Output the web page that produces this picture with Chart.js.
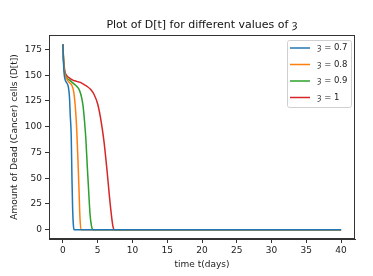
<!DOCTYPE html>
<html>
<head>
<meta charset="utf-8">
<title>Plot of D[t]</title>
<script src="https://cdn.jsdelivr.net/npm/chart.js@4"></script>
<style>
  body { margin: 0; background: #fff; }
</style>
</head>
<body>
<canvas id="myChart" width="373" height="276"></canvas>
<script>
// values
const sym = 'ȝ';
const chartTitle = 'Plot of D[t] for different values of ' + sym;
const labels = [sym + ' = 0.7', sym + ' = 0.8', sym + ' = 0.9', sym + ' = 1'];
const colors = ['#1f77b4', '#ff7f0e', '#2ca02c', '#d62728'];

const tBlue = [0, 0.1, 0.2, 0.35, 0.6, 0.8, 0.95, 1.05, 1.2, 1.3, 1.4, 1.5, 1.6, 40];
const dBlue = [180, 160, 150, 145, 142, 138, 128, 112, 90, 50, 20, 5, 0, 0];

const tOrange = [0, 0.1, 0.25, 0.5, 0.9, 1.3, 1.55, 1.75, 1.9, 2.0, 2.15, 2.3, 2.45, 2.6, 40];
const dOrange = [180, 162, 152, 147, 143, 140, 134, 122, 108, 95, 70, 42, 12, 0, 0];

const tGreen = [0, 0.1, 0.25, 0.5, 1.0, 1.5, 2.0, 2.4, 2.7, 2.9, 3.1, 3.3, 3.5, 3.7, 3.9, 4.1, 4.35, 40];
const dGreen = [180, 163, 153, 148, 145, 142, 139, 135, 128, 120, 106, 88, 62, 38, 15, 4, 0, 0];

const tRed = [0, 0.1, 0.25, 0.5, 1, 1.5, 2, 2.5, 3, 3.5, 4, 4.5, 5, 5.4, 5.9, 6.35, 6.8, 7.2, 7.4, 40];
const dRed = [180, 165, 155, 150, 147, 145, 144, 143, 141, 139, 136, 131, 122, 109, 86, 57, 25, 3, 0, 0];

const xTicks = [0, 5, 10, 15, 20, 25, 30, 35, 40];
const yTicks = [0, 25, 50, 75, 100, 125, 150, 175];

const series = [[tBlue, dBlue], [tOrange, dOrange], [tGreen, dGreen], [tRed, dRed]];

const FONT = 'DejaVu Sans';
Chart.defaults.font.family = FONT;
Chart.defaults.color = '#222';

// box round the plot area, title centred over it, legend in the top right corner
const framePlugin = {
    id: 'frame',
    afterDraw(chart) {
        const ctx = chart.ctx;
        const a = chart.chartArea;
        ctx.save();
        ctx.strokeStyle = '#333';
        ctx.lineWidth = 1;
        ctx.strokeRect(a.left + 0.5, a.top + 0.5, a.right - a.left - 1, a.bottom - a.top - 1);

        ctx.fillStyle = '#111';
        ctx.font = '11px ' + FONT;
        ctx.textAlign = 'center';
        ctx.textBaseline = 'middle';
        ctx.fillText(chartTitle, (a.left + a.right) / 2, a.top - 10);

        // legend
        const bx = a.right - 68, by = a.top + 5, bw = 64, bh = 67;
        ctx.fillStyle = 'rgba(255,255,255,0.85)';
        ctx.strokeStyle = '#d0d0d0';
        ctx.beginPath();
        ctx.roundRect(bx + 0.5, by + 0.5, bw, bh, 2);
        ctx.fill();
        ctx.stroke();
        ctx.font = '8.5px ' + FONT;
        ctx.textAlign = 'left';
        chart.data.datasets.forEach((ds, i) => {
            const y = by + 8 + i * 16.5;
            ctx.strokeStyle = ds.borderColor;
            ctx.lineWidth = 1.5;
            ctx.beginPath();
            ctx.moveTo(bx + 3, y);
            ctx.lineTo(bx + 23, y);
            ctx.stroke();
            ctx.fillStyle = '#222';
            ctx.fillText(ds.label, bx + 30, y);
        });
        ctx.restore();
    }
};

const datasets = series.map((s, i) => ({
    label: labels[i],
    data: s[0].map((t, j) => ({ x: t, y: s[1][j] })),
    borderColor: colors[i],
    backgroundColor: colors[i],
    borderWidth: 1.5,
    pointRadius: 0,
    cubicInterpolationMode: 'monotone',
    fill: false
}));

const ctx = document.getElementById('myChart').getContext('2d');
const myChart = new Chart(ctx, {
    type: 'line',
    data: { datasets: datasets },
    plugins: [framePlugin],
    options: {
        responsive: false,
        animation: false,
        layout: { padding: { left: 0, right: 18, top: 35, bottom: 0 } },
        plugins: {
            legend: { display: false },
            tooltip: { enabled: false },
            title: { display: false }
        },
        scales: {
            x: {
                type: 'linear',
                min: -2,
                max: 42,
                afterBuildTicks: (axis) => { axis.ticks = xTicks.map(v => ({ value: v })); },
                afterFit: (axis) => { axis.height = 37; },
                grid: { drawOnChartArea: false, tickLength: 4, color: '#333' },
                border: { color: '#333' },
                ticks: { font: { size: 9 }, padding: 2, maxRotation: 0, color: '#222' },
                title: { display: true, text: 'time t(days)', font: { size: 9 }, color: '#222', padding: { top: 0, bottom: 6 } }
            },
            y: {
                min: -9,
                max: 189,
                afterBuildTicks: (axis) => { axis.ticks = yTicks.map(v => ({ value: v })); },
                afterFit: (axis) => { axis.width = 49; },
                grid: { drawOnChartArea: false, tickLength: 4, color: '#333' },
                border: { color: '#333' },
                ticks: { font: { size: 9 }, padding: 3, color: '#222' },
                title: { display: true, text: 'Amount of Dead (Cancer) cells (D[t])', font: { size: 9 }, color: '#222', padding: { top: 9, bottom: 0 } }
            }
        }
    }
});
</script>
</body>
</html>
